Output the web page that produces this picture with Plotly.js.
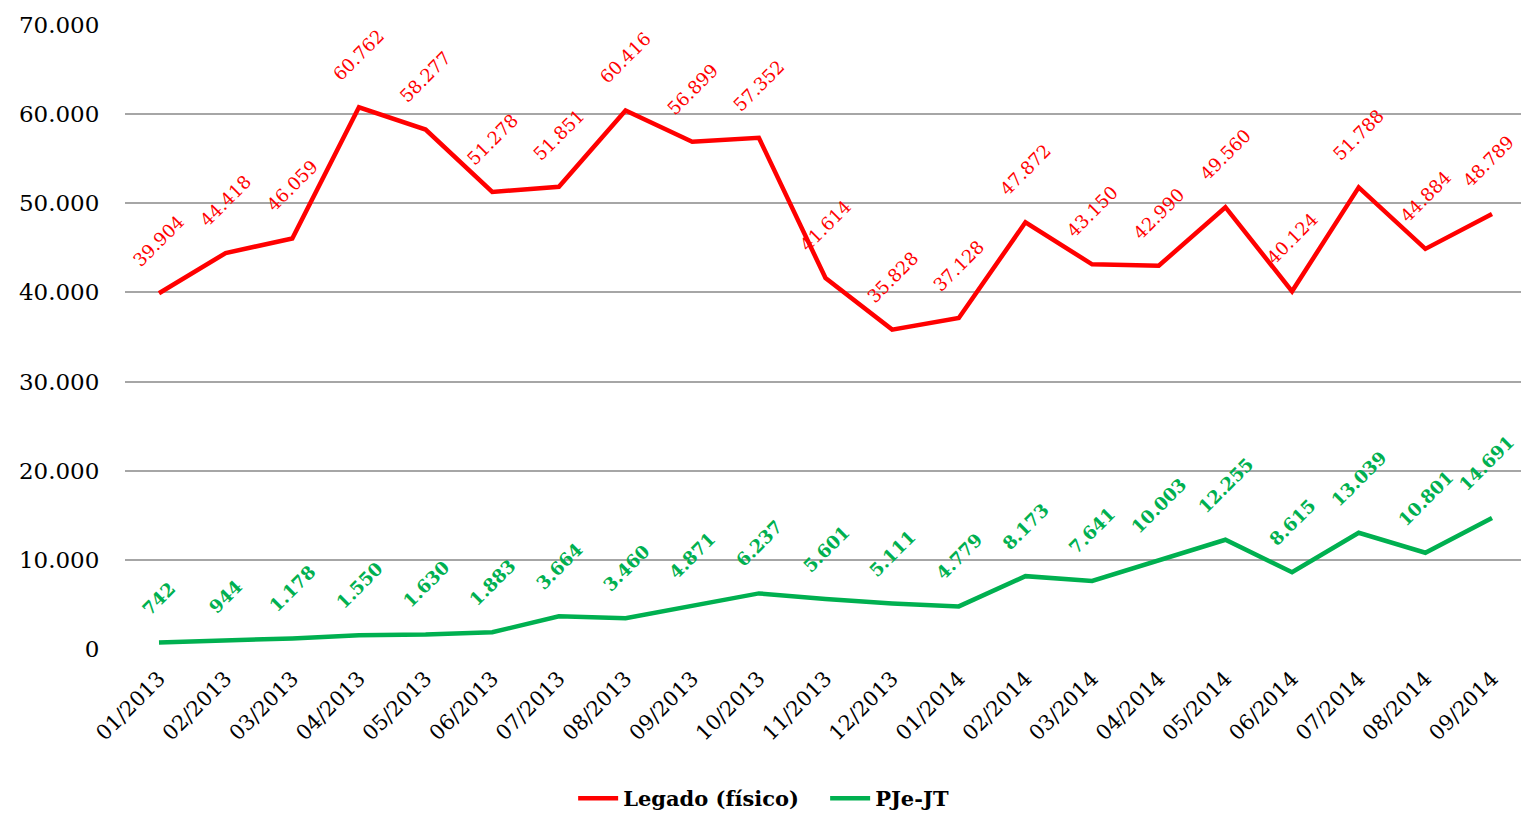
<!DOCTYPE html>
<html>
<head>
<meta charset="utf-8">
<script src="https://cdn.plot.ly/plotly-3.0.1.min.js"></script>
<style>html,body{margin:0;padding:0;background:#fff;}#chart{width:1521px;height:819px;}</style>
</head>
<body>
<div id="chart"></div>
<script>
const months = ["01/2013","02/2013","03/2013","04/2013","05/2013","06/2013","07/2013","08/2013","09/2013","10/2013","11/2013","12/2013","01/2014","02/2014","03/2014","04/2014","05/2014","06/2014","07/2014","08/2014","09/2014"];
const legado = [39904,44418,46059,60762,58277,51278,51851,60416,56899,57352,41614,35828,37128,47872,43150,42990,49560,40124,51788,44884,48789];
const pje = [742,944,1178,1550,1630,1883,3664,3460,4871,6237,5601,5111,4779,8173,7641,10003,12255,8615,13039,10801,14691];
const yTicks = [0,10000,20000,30000,40000,50000,60000,70000];
const yTickText = ["0","10.000","20.000","30.000","40.000","50.000","60.000","70.000"];

const FONT = "DejaVu Serif, Liberation Serif, serif";
function fmt(v){ return String(v).replace(/\B(?=(\d{3})+(?!\d))/g, "."); }

const idx = months.map((m,i)=>i);
const last = idx.length - 1;
const traces = [
  {x: idx, y: legado, type: "scatter", mode: "lines", name: "Legado (físico)",
   line: {color: "#FF0000", width: 4.5}},
  {x: idx, y: pje, type: "scatter", mode: "lines", name: "PJe-JT",
   line: {color: "#00B050", width: 4.5}}
];

const annotations = [];
legado.forEach((v,i)=>annotations.push({x:i, y:v, xref:"x", yref:"y", text:fmt(v), showarrow:false,
  textangle:-45, xanchor:"center", yanchor:"bottom", yshift:20, xshift: i===last ? -4 : 0,
  font:{family:FONT, size:18, color:"#FF0000"}}));
pje.forEach((v,i)=>annotations.push({x:i, y:v, xref:"x", yref:"y", text:"<b>"+fmt(v)+"</b>", showarrow:false,
  textangle:-45, xanchor:"center", yanchor:"bottom", yshift:20, xshift: i===last ? -6 : 0,
  font:{family:FONT, size:18, color:"#00B050"}}));

const layout = {
  width: 1521, height: 819,
  margin: {l: 125, r: 0, t: 25, b: 170},
  paper_bgcolor: "#fff", plot_bgcolor: "#fff",
  separators: ",.",
  showlegend: true,
  legend: {orientation: "h", xref: "container", yref: "container", x: 0.5425, y: -0.005,
    xanchor: "center", yanchor: "bottom", itemwidth: 40, entrywidth: 197, entrywidthmode: "pixels",
    font: {family: FONT, size: 21, color: "#000", weight: "bold"}},
  xaxis: {range: [-0.51, 20.435], tickmode: "array", tickvals: idx, ticktext: months,
    tickangle: -45, showgrid: false, zeroline: false, showline: false,
    ticks: "outside", ticklen: 8, tickcolor: "rgba(0,0,0,0)",
    tickfont: {family: FONT, size: 21, color: "#000"}},
  yaxis: {range: [0, 70000], tickmode: "array", tickvals: yTicks, ticktext: yTickText,
    showgrid: true, gridcolor: "#A6A6A6", gridwidth: 1.5, zeroline: false, showline: false,
    ticks: "outside", ticklen: 20, tickcolor: "rgba(0,0,0,0)",
    tickfont: {family: FONT, size: 23, color: "#000"}},
  annotations: annotations
};
Plotly.newPlot("chart", traces, layout, {displayModeBar: false, responsive: false});
</script>
</body>
</html>
